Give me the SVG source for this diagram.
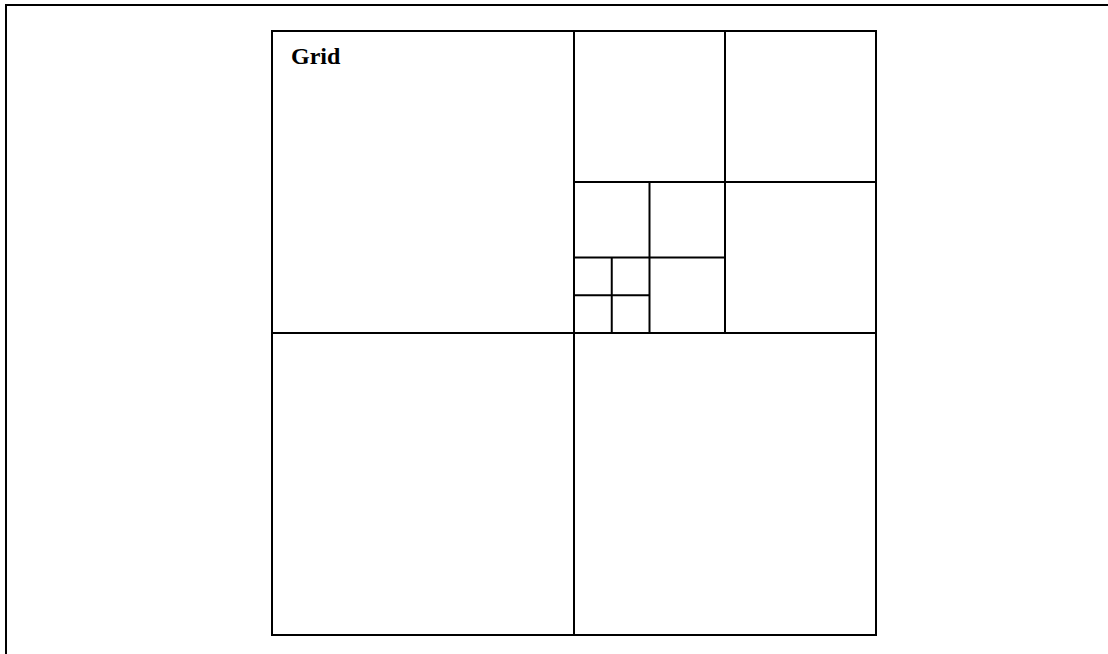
<svg xmlns="http://www.w3.org/2000/svg" width="1108" height="654" viewBox="0 0 1108 654">
<style>
.b{fill:none;stroke:#000;stroke-width:2}
.l{stroke:#000;stroke-width:2}
.t{font-family:"Liberation Serif",serif;font-weight:bold;font-size:24px;fill:#000}
</style>
<rect width="1108" height="654" fill="#fff"/>
<rect id="frame" class="b" x="6" y="5" width="1120" height="670"/>
<g id="grid">
<rect class="b" x="272" y="31" width="604" height="604"/>
<g id="connectors">
<line class="l" x1="574" y1="31" x2="574" y2="635"/>
<line class="l" x1="272" y1="333" x2="876" y2="333"/>
<line class="l" x1="725" y1="31" x2="725" y2="333"/>
<line class="l" x1="574" y1="182" x2="876" y2="182"/>
<line class="l" x1="649.5" y1="182" x2="649.5" y2="333"/>
<line class="l" x1="574" y1="257.5" x2="725" y2="257.5"/>
<line class="l" x1="611.75" y1="257.5" x2="611.75" y2="333"/>
<line class="l" x1="574" y1="295.25" x2="649.5" y2="295.25"/>
</g>
<text class="t" x="291" y="64">Grid</text>
</g>
</svg>
